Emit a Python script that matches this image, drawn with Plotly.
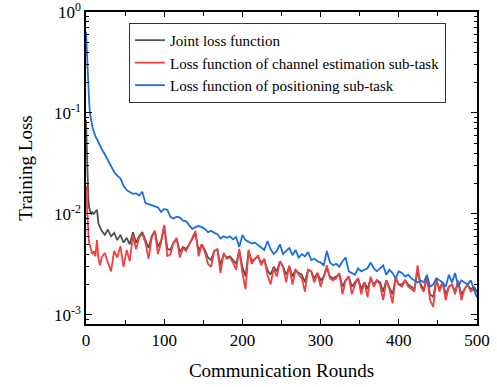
import plotly.graph_objects as go

rounds = [0, 1, 2, 3, 4, 5, 6, 7, 8, 9,
          10, 12, 14, 16, 18, 20, 24, 28, 32, 36,
          40, 44, 48, 52, 56, 60, 64, 68, 72, 76,
          80, 84, 88, 92, 96, 100, 104, 108, 112, 116,
          120, 124, 128, 132, 136, 140, 144, 148, 152, 156,
          160, 164, 168, 172, 176, 180, 184, 188, 192, 196,
          200, 204, 208, 212, 216, 220, 224, 228, 232, 236,
          240, 244, 248, 252, 256, 260, 264, 268, 272, 276,
          280, 284, 288, 292, 296, 300, 304, 308, 312, 316,
          320, 324, 328, 332, 336, 340, 344, 348, 352, 356,
          360, 364, 368, 372, 376, 380, 384, 388, 392, 396,
          400, 404, 408, 412, 416, 420, 424, 428, 432, 436,
          440, 444, 448, 452, 456, 460, 464, 468, 472, 476,
          480, 484, 488, 492, 496, 500]

joint_loss = [0.085, 0.040, 0.020, 0.014, 0.0115, 0.0105, 0.0102, 0.0100, 0.0104, 0.0102,
              0.0100, 0.0105, 0.0110, 0.0080, 0.0072, 0.0068, 0.0062, 0.0070, 0.0060, 0.0065,
              0.0055, 0.0062, 0.0052, 0.0058, 0.0050, 0.0066, 0.0052, 0.0060, 0.0066, 0.0056,
              0.0046, 0.0060, 0.0068, 0.0047, 0.0054, 0.0076, 0.0045, 0.0044, 0.0052, 0.0056,
              0.0042, 0.0047, 0.0045, 0.0050, 0.0056, 0.0064, 0.0043, 0.0050, 0.0044, 0.0037,
              0.0035, 0.0043, 0.0044, 0.0031, 0.0040, 0.0037, 0.0038, 0.0035, 0.0032, 0.0043,
              0.0030, 0.0024, 0.0043, 0.0034, 0.0036, 0.0038, 0.0033, 0.0035, 0.0028, 0.0025,
              0.0030, 0.0027, 0.0034, 0.0030, 0.0025, 0.0030, 0.0024, 0.0028, 0.0026, 0.0025,
              0.0021, 0.0028, 0.0027, 0.0023, 0.0026, 0.0022, 0.0024, 0.0029, 0.0024, 0.0023,
              0.0024, 0.0025, 0.0019, 0.0022, 0.0024, 0.0019, 0.0021, 0.0023, 0.0018, 0.0021,
              0.0018, 0.0023, 0.0020, 0.0022, 0.0021, 0.0017, 0.0022, 0.0019, 0.0016, 0.0023,
              0.0020, 0.0020, 0.0022, 0.0020, 0.0019, 0.0018, 0.0028, 0.0020, 0.0018, 0.0023,
              0.0016, 0.0015, 0.0022, 0.0018, 0.0021, 0.0016, 0.0019, 0.0020, 0.0017, 0.0021,
              0.0016, 0.0018, 0.0020, 0.0018, 0.0019, 0.0017]

channel_loss = [0.019, 0.012, 0.0085, 0.0065, 0.0052, 0.0048, 0.0046, 0.0042, 0.0040, 0.0041,
                0.0043, 0.0038, 0.0055, 0.0036, 0.0031, 0.0037, 0.0041, 0.0033, 0.0027, 0.0043,
                0.0037, 0.0048, 0.0030, 0.0044, 0.0034, 0.0062, 0.0045, 0.0058, 0.0064, 0.0052,
                0.0036, 0.0058, 0.0068, 0.0040, 0.0052, 0.0078, 0.0038, 0.0040, 0.0052, 0.0058,
                0.0037, 0.0046, 0.0043, 0.0050, 0.0058, 0.0068, 0.0038, 0.0050, 0.0042, 0.0032,
                0.0030, 0.0043, 0.0045, 0.0026, 0.0041, 0.0036, 0.0037, 0.0033, 0.0028, 0.0045,
                0.0026, 0.0018, 0.0044, 0.0032, 0.0036, 0.0039, 0.0031, 0.0036, 0.0025, 0.0020,
                0.0029, 0.0024, 0.0034, 0.0030, 0.0021, 0.0031, 0.0020, 0.0028, 0.0025, 0.0023,
                0.0017, 0.0028, 0.0027, 0.0021, 0.0026, 0.0019, 0.0024, 0.0031, 0.0023, 0.0022,
                0.0023, 0.0026, 0.0016, 0.0022, 0.0024, 0.0016, 0.0020, 0.0023, 0.0016, 0.0021,
                0.0015, 0.0024, 0.0019, 0.0022, 0.0020, 0.0014, 0.0022, 0.0018, 0.0013, 0.0024,
                0.0020, 0.0019, 0.0022, 0.0019, 0.0018, 0.0017, 0.0031, 0.0019, 0.0017, 0.0024,
                0.0014, 0.0012, 0.0023, 0.0017, 0.0021, 0.0014, 0.0019, 0.0020, 0.0016, 0.0022,
                0.0014, 0.0018, 0.0020, 0.0017, 0.0018, 0.0015]

positioning_loss = [0.64, 0.40, 0.26, 0.18, 0.13, 0.10, 0.088, 0.080, 0.074, 0.069,
                    0.065, 0.059, 0.055, 0.051, 0.047, 0.044, 0.039, 0.034, 0.029, 0.026,
                    0.024, 0.0225, 0.019, 0.0172, 0.0165, 0.0158, 0.0160, 0.0152, 0.0166, 0.0128,
                    0.0125, 0.0121, 0.0119, 0.0116, 0.0105, 0.0112, 0.0110, 0.0093, 0.0090, 0.0094,
                    0.0092, 0.0086, 0.0085, 0.0077, 0.0071, 0.0074, 0.0076, 0.0074, 0.0071, 0.0066,
                    0.0068, 0.0065, 0.0063, 0.0057, 0.0060, 0.0058, 0.0060, 0.0056, 0.0059, 0.0047,
                    0.0062, 0.0055, 0.0053, 0.0051, 0.0052, 0.0049, 0.0046, 0.0044, 0.0054, 0.0045,
                    0.0040, 0.0043, 0.0050, 0.0040, 0.0043, 0.0046, 0.0039, 0.0044, 0.0037, 0.0040,
                    0.0038, 0.0042, 0.0035, 0.0036, 0.0034, 0.0033, 0.0031, 0.0043, 0.0033, 0.0031,
                    0.0032, 0.0030, 0.0034, 0.0037, 0.0027, 0.0026, 0.0025, 0.0029, 0.0027, 0.0028,
                    0.0029, 0.0033, 0.0029, 0.0027, 0.0029, 0.0031, 0.0025, 0.0028, 0.0026, 0.0023,
                    0.0027, 0.0026, 0.0024, 0.0025, 0.0023, 0.0022, 0.0021, 0.0022, 0.0021, 0.0025,
                    0.0019, 0.0020, 0.0023, 0.0022, 0.0021, 0.0019, 0.0025, 0.0021, 0.0026, 0.0019,
                    0.0022, 0.0021, 0.0020, 0.0022, 0.0018, 0.0015]

series_names = ["Joint loss function",
                "Loss function of channel estimation sub-task",
                "Loss function of positioning sub-task"]
series_colors = ["#515151", "#F14040", "#1A6FDF"]

y_tick_vals = [0.001, 0.01, 0.1, 1]
y_tick_text = ["10<sup>-3</sup>", "10<sup>-2</sup>", "10<sup>-1</sup>", "10<sup>0</sup>"]
x_tick_vals = [0, 100, 200, 300, 400, 500]

FONT = "Liberation Serif"

fig = go.Figure()
for name, vals, col in zip(series_names, [joint_loss, channel_loss, positioning_loss], series_colors):
    fig.add_trace(go.Scatter(x=rounds, y=vals, mode="lines", name=name,
                             line=dict(color=col, width=1.8)))

minor_y = [m * 10 ** e for e in (-4, -3, -2, -1) for m in range(2, 10)]

fig.update_layout(
    width=497, height=387,
    margin=dict(l=86, r=20, t=12, b=63),
    paper_bgcolor="white", plot_bgcolor="white",
    font=dict(family=FONT, size=17, color="black"),
    showlegend=True,
    legend=dict(x=0.11, y=0.965, xanchor="left", yanchor="top",
                bgcolor="white", bordercolor="#333333", borderwidth=1,
                font=dict(family=FONT, size=15, color="black"),
                tracegroupgap=0, itemwidth=30),
)
fig.update_xaxes(
    range=[0, 500], tickmode="array", tickvals=x_tick_vals, automargin=False,
    ticklabeloverflow="allow",
    showline=True, linecolor="black", linewidth=1.5, mirror="ticks",
    ticks="inside", ticklen=5, tickwidth=1.2, tickcolor="black",
    minor=dict(tickmode="array", tickvals=[50, 150, 250, 350, 450], ticks="inside",
               ticklen=4, tickwidth=1.2, tickcolor="black", showgrid=False),
    showgrid=False, zeroline=False,
    title=dict(text="Communication Rounds", font=dict(family=FONT, size=19), standoff=15),
    tickfont=dict(family=FONT, size=17),
)
fig.update_yaxes(
    type="log", range=[-3.09, 0], tickmode="array", tickvals=y_tick_vals, ticktext=y_tick_text,
    automargin=False, ticklabeloverflow="allow",
    showline=True, linecolor="black", linewidth=1.5, mirror="ticks",
    ticks="inside", ticklen=6, tickwidth=1.2, tickcolor="black",
    minor=dict(tickmode="array", tickvals=minor_y, ticks="inside", ticklen=3,
               tickwidth=1, tickcolor="black", showgrid=False),
    showgrid=False, zeroline=False,
    title=dict(text="Training Loss", font=dict(family=FONT, size=19), standoff=16),
    tickfont=dict(family=FONT, size=17),
)

fig.write_html("out.html", config={"displayModeBar": False},
               post_script="document.body.style.margin='0';document.body.style.padding='0';")
